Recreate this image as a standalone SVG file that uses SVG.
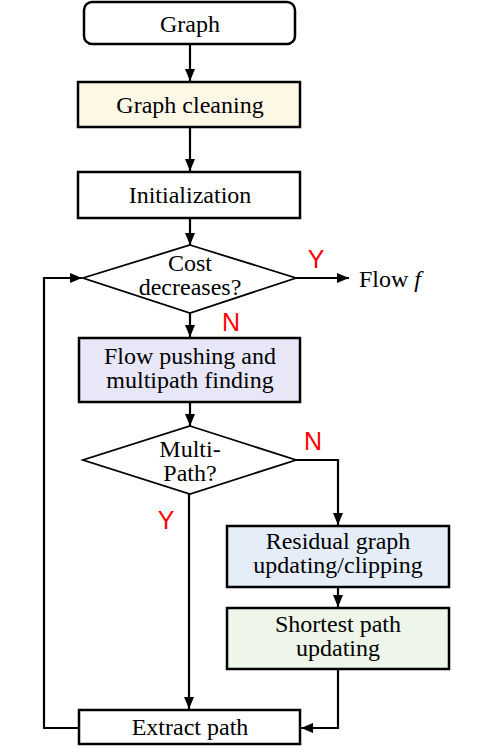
<svg xmlns="http://www.w3.org/2000/svg" width="493" height="756" viewBox="0 0 493 756">
<defs>
<marker id="ah" viewBox="0 0 12 10" refX="12" refY="5" markerWidth="12" markerHeight="10" markerUnits="userSpaceOnUse" orient="auto">
<path d="M0,0 L12,5 L0,10 Z" fill="#000"/>
</marker>
<style>
.box{stroke:#000;stroke-width:2.5}
.dia{fill:#fff;stroke:#000;stroke-width:1.8}
.t{font-family:"Liberation Serif","Times New Roman",serif;font-size:24px;fill:#000;text-anchor:middle}
.ts{font-family:"Liberation Serif","Times New Roman",serif;font-size:24px;fill:#000;text-anchor:start}
.lab{font-family:"Liberation Sans",Arial,sans-serif;font-size:25px;fill:#ff0000;text-anchor:middle}
.c{fill:none;stroke:#000;stroke-width:2.2}
</style>
</defs>
<rect width="493" height="756" fill="#fff"/>
<g id="connectors">
<line class="c" x1="190" y1="44" x2="190" y2="81" marker-end="url(#ah)"/>
<line class="c" x1="190" y1="127" x2="190" y2="171" marker-end="url(#ah)"/>
<line class="c" x1="190" y1="218" x2="190" y2="245" marker-end="url(#ah)"/>
<line class="c" x1="296" y1="278" x2="349" y2="278" marker-end="url(#ah)"/>
<line class="c" x1="190" y1="313" x2="190" y2="337" marker-end="url(#ah)"/>
<line class="c" x1="190" y1="402" x2="190" y2="426" marker-end="url(#ah)"/>
<polyline class="c" points="296,460 338,460 338,525" marker-end="url(#ah)"/>
<line class="c" x1="338" y1="587" x2="338" y2="607" marker-end="url(#ah)"/>
<polyline class="c" points="338,669 338,728 301,728" marker-end="url(#ah)"/>
<line class="c" x1="189" y1="494" x2="189" y2="709" marker-end="url(#ah)"/>
<polyline class="c" points="79,728 44,728 44,278 82,278" marker-end="url(#ah)"/>
<text class="lab" x="316" y="268">Y</text>
<text class="lab" x="231" y="331">N</text>
<text class="lab" x="313" y="450">N</text>
<text class="lab" x="166" y="529">Y</text>
</g>
<g id="graph">
<rect class="box" x="84" y="2" width="211" height="42" rx="8" fill="#fff"/>
<text class="t" x="190" y="32">Graph</text>
</g>
<g id="graph-cleaning">
<rect class="box" x="78" y="82" width="222" height="45" fill="#fdf7e6"/>
<text class="t" x="190" y="113">Graph cleaning</text>
</g>
<g id="initialization">
<rect class="box" x="78" y="172" width="222" height="46" fill="#fff"/>
<text class="t" x="190" y="203">Initialization</text>
</g>
<g id="cost-decreases">
<polygon class="dia" points="190,245 296,278 190,313 83,278"/>
<text class="t" x="190" y="271">Cost</text>
<text class="t" x="190" y="295">decreases?</text>
</g>
<g id="flow-f">
<text class="ts" x="359" y="287">Flow <tspan font-style="italic">f</tspan></text>
</g>
<g id="flow-pushing">
<rect class="box" x="79" y="338" width="221" height="64" fill="#e7e7f8"/>
<text class="t" x="190" y="364">Flow pushing and</text>
<text class="t" x="190" y="388">multipath finding</text>
</g>
<g id="multi-path">
<polygon class="dia" points="190,426 296,460 190,494 83,460"/>
<text class="t" x="190" y="457">Multi-</text>
<text class="t" x="190" y="481">Path?</text>
</g>
<g id="residual">
<rect class="box" x="227" y="526" width="222" height="61" fill="#e5edf8"/>
<text class="t" x="338" y="549">Residual graph</text>
<text class="t" x="338" y="573">updating/clipping</text>
</g>
<g id="shortest">
<rect class="box" x="227" y="608" width="222" height="61" fill="#eef5e9"/>
<text class="t" x="338" y="632">Shortest path</text>
<text class="t" x="338" y="656">updating</text>
</g>
<g id="extract">
<rect class="box" x="79" y="710" width="221" height="34" fill="#fff"/>
<text class="t" x="190" y="735">Extract path</text>
</g>
</svg>
